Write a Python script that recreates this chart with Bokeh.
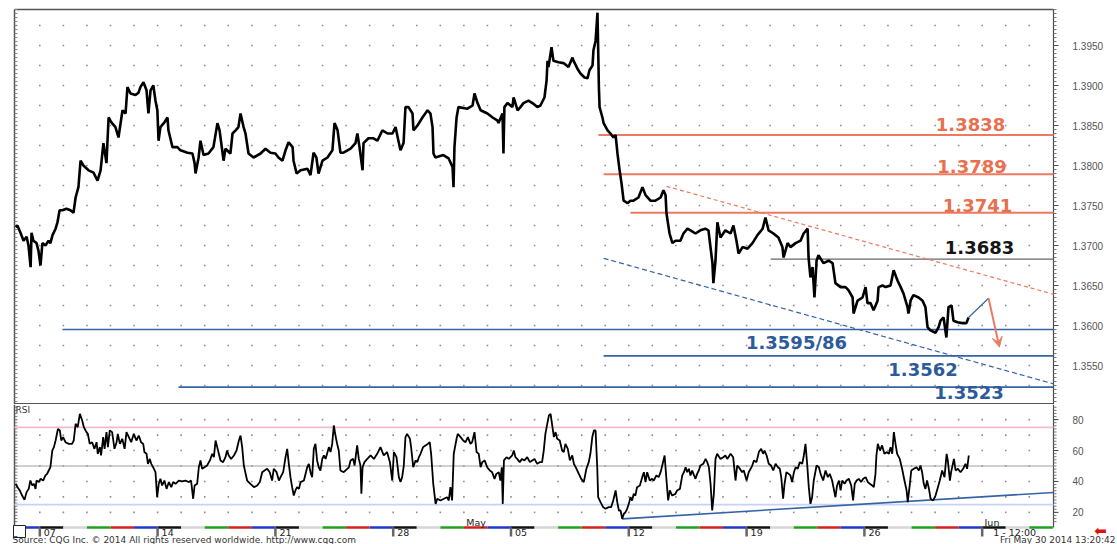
import numpy as np
from bokeh.plotting import figure
from bokeh.layouts import column
from bokeh.models import Arrow, VeeHead
from bokeh.core.properties import value
from bokeh.embed import file_html
from bokeh.resources import INLINE

# ---------------- data (time = trading days since the Apr 07 session open) ----------------
eurusd_close = [
    (-1.03, 1.3723), (-0.95, 1.3725), (-0.82, 1.3716), (-0.69, 1.3706), (-0.56, 1.3711), (-0.48, 1.3700),
    (-0.39, 1.3673), (-0.35, 1.3716), (-0.27, 1.3706), (-0.14, 1.3703), (-0.06, 1.3694), (0.03, 1.3675),
    (0.11, 1.3703), (0.24, 1.3700), (0.37, 1.3706), (0.45, 1.3703), (0.54, 1.3713), (0.67, 1.3721),
    (0.75, 1.3729), (0.84, 1.3744), (0.96, 1.3744), (1.13, 1.3746), (1.30, 1.3744), (1.43, 1.3741),
    (1.52, 1.3760), (1.64, 1.3773), (1.73, 1.3806), (1.85, 1.3800), (2.07, 1.3794), (2.28, 1.3791),
    (2.45, 1.3781), (2.58, 1.3794), (2.70, 1.3828), (2.83, 1.3803), (2.92, 1.3860), (3.04, 1.3854),
    (3.21, 1.3848), (3.34, 1.3835), (3.51, 1.3869), (3.64, 1.3865), (3.72, 1.3898), (3.85, 1.3890),
    (4.06, 1.3888), (4.19, 1.3891), (4.27, 1.3898), (4.40, 1.3904), (4.53, 1.3894), (4.61, 1.3865),
    (4.70, 1.3894), (4.82, 1.3900), (4.91, 1.3881), (4.99, 1.3869), (5.04, 1.3831), (5.12, 1.3848),
    (5.29, 1.3854), (5.42, 1.3860), (5.46, 1.3844), (5.63, 1.3823), (5.84, 1.3823), (5.97, 1.3819),
    (6.27, 1.3816), (6.48, 1.3815), (6.57, 1.3803), (6.61, 1.3790), (6.74, 1.3810), (6.82, 1.3831),
    (6.95, 1.3813), (7.16, 1.3815), (7.37, 1.3823), (7.54, 1.3853), (7.63, 1.3844), (7.76, 1.3815),
    (7.80, 1.3806), (7.88, 1.3821), (8.09, 1.3815), (8.18, 1.3840), (8.31, 1.3844), (8.43, 1.3848),
    (8.52, 1.3865), (8.65, 1.3848), (8.73, 1.3840), (8.86, 1.3815), (9.07, 1.3810), (9.37, 1.3815),
    (9.58, 1.3821), (9.79, 1.3816), (10.00, 1.3815), (10.13, 1.3810), (10.30, 1.3806), (10.43, 1.3819),
    (10.56, 1.3829), (10.73, 1.3823), (10.77, 1.3806), (10.90, 1.3790), (11.07, 1.3794), (11.36, 1.3796),
    (11.49, 1.3788), (11.62, 1.3816), (11.74, 1.3810), (11.83, 1.3790), (12.00, 1.3806), (12.21, 1.3810),
    (12.42, 1.3819), (12.51, 1.3853), (12.64, 1.3844), (12.76, 1.3816), (12.89, 1.3816), (13.19, 1.3821),
    (13.40, 1.3828), (13.48, 1.3840), (13.57, 1.3823), (13.70, 1.3794), (13.74, 1.3828), (13.95, 1.3834),
    (14.16, 1.3834), (14.33, 1.3831), (14.54, 1.3844), (14.76, 1.3840), (14.97, 1.3840), (15.10, 1.3848),
    (15.22, 1.3831), (15.31, 1.3819), (15.44, 1.3828), (15.52, 1.3873), (15.65, 1.3873), (15.82, 1.3865),
    (15.86, 1.3844), (16.03, 1.3850), (16.24, 1.3860), (16.46, 1.3869), (16.58, 1.3865), (16.67, 1.3848),
    (16.71, 1.3815), (16.79, 1.3810), (17.13, 1.3813), (17.35, 1.3809), (17.52, 1.3798), (17.56, 1.3773),
    (17.60, 1.3823), (17.69, 1.3860), (17.77, 1.3873), (18.15, 1.3871), (18.37, 1.3875), (18.45, 1.3890),
    (18.58, 1.3878), (18.71, 1.3869), (19.00, 1.3865), (19.22, 1.3860), (19.43, 1.3856), (19.47, 1.3853),
    (19.64, 1.3865), (19.68, 1.3815), (19.72, 1.3873), (19.85, 1.3878), (20.06, 1.3873), (20.11, 1.3885),
    (20.28, 1.3869), (20.40, 1.3873), (20.53, 1.3878), (20.74, 1.3881), (20.91, 1.3878), (21.12, 1.3873),
    (21.25, 1.3875), (21.42, 1.3885), (21.51, 1.3906), (21.55, 1.3931), (21.59, 1.3923), (21.72, 1.3948),
    (21.80, 1.3931), (22.02, 1.3929), (22.23, 1.3928), (22.44, 1.3923), (22.61, 1.3935), (22.65, 1.3931),
    (22.82, 1.3921), (22.95, 1.3915), (23.12, 1.3910), (23.25, 1.3909), (23.33, 1.3919), (23.46, 1.3925),
    (23.50, 1.3944), (23.59, 1.3956), (23.63, 1.3973), (23.67, 1.3991), (23.71, 1.3931), (23.73, 1.3898),
    (23.76, 1.3873), (23.88, 1.3860), (23.93, 1.3853), (24.10, 1.3844), (24.22, 1.3840), (24.35, 1.3835),
    (24.44, 1.3838), (24.52, 1.3815), (24.61, 1.3794), (24.69, 1.3778), (24.78, 1.3756), (24.95, 1.3753),
    (25.07, 1.3756), (25.20, 1.3756), (25.41, 1.3760), (25.58, 1.3773), (25.71, 1.3763), (25.92, 1.3756),
    (26.13, 1.3756), (26.35, 1.3760), (26.47, 1.3769), (26.56, 1.3763), (26.60, 1.3740), (26.73, 1.3715),
    (26.85, 1.3703), (26.98, 1.3706), (27.19, 1.3706), (27.32, 1.3715), (27.49, 1.3721), (27.62, 1.3719),
    (27.83, 1.3715), (28.04, 1.3719), (28.25, 1.3721), (28.38, 1.3719), (28.55, 1.3678), (28.59, 1.3653),
    (28.68, 1.3681), (28.76, 1.3729), (28.89, 1.3710), (29.10, 1.3719), (29.32, 1.3715), (29.44, 1.3725),
    (29.57, 1.3706), (29.66, 1.3690), (29.83, 1.3698), (30.04, 1.3696), (30.25, 1.3703), (30.46, 1.3713),
    (30.68, 1.3721), (30.80, 1.3735), (30.93, 1.3719), (31.14, 1.3715), (31.35, 1.3710), (31.52, 1.3698),
    (31.57, 1.3685), (31.74, 1.3703), (31.86, 1.3698), (32.08, 1.3703), (32.29, 1.3706), (32.42, 1.3715),
    (32.59, 1.3721), (32.63, 1.3685), (32.71, 1.3660), (32.80, 1.3673), (32.88, 1.3635), (32.97, 1.3681),
    (33.05, 1.3688), (33.26, 1.3678), (33.48, 1.3681), (33.65, 1.3678), (33.77, 1.3653), (33.99, 1.3648),
    (34.20, 1.3648), (34.33, 1.3644), (34.50, 1.3635), (34.54, 1.3615), (34.71, 1.3631), (34.92, 1.3635),
    (35.05, 1.3648), (35.13, 1.3628), (35.26, 1.3628), (35.39, 1.3619), (35.56, 1.3631), (35.60, 1.3648),
    (35.77, 1.3650), (35.90, 1.3648), (36.11, 1.3650), (36.24, 1.3669), (36.41, 1.3656), (36.54, 1.3648),
    (36.66, 1.3640), (36.83, 1.3623), (36.87, 1.3615), (36.96, 1.3631), (37.08, 1.3638), (37.30, 1.3635),
    (37.47, 1.3631), (37.59, 1.3623), (37.68, 1.3598), (37.80, 1.3594), (38.02, 1.3591), (38.15, 1.3598),
    (38.23, 1.3606), (38.36, 1.3610), (38.48, 1.3585), (38.57, 1.3623), (38.70, 1.3625), (38.78, 1.3606),
    (38.95, 1.3604), (39.16, 1.3603), (39.33, 1.3603), (39.42, 1.3610),
]

rsi_14 = [
    (-1.03, 38.5), (-0.93, 35.9), (-0.85, 34.2), (-0.75, 30.9), (-0.65, 28.1), (-0.56, 33.1), (-0.47, 35.2),
    (-0.40, 40.6), (-0.32, 37.4), (-0.25, 38.5), (-0.18, 35.2), (-0.14, 40.6), (-0.04, 39.6), (0.03, 41.7),
    (0.14, 40.6), (0.24, 43.9), (0.31, 44.9), (0.38, 47.1), (0.45, 49.2), (0.53, 60.0), (0.60, 62.2),
    (0.67, 66.5), (0.77, 74.0), (0.85, 73.0), (0.91, 66.5), (0.99, 68.7), (1.09, 65.4), (1.23, 64.3),
    (1.37, 64.3), (1.44, 66.5), (1.52, 77.3), (1.61, 75.1), (1.70, 83.7), (1.80, 79.4), (1.87, 75.1),
    (1.98, 71.9), (2.04, 70.8), (2.12, 64.3), (2.22, 65.4), (2.32, 61.1), (2.41, 65.4), (2.46, 57.9),
    (2.55, 62.2), (2.60, 56.8), (2.69, 68.7), (2.75, 61.1), (2.83, 71.9), (2.89, 62.2), (2.97, 73.0),
    (3.07, 71.9), (3.17, 61.1), (3.26, 65.4), (3.31, 70.8), (3.40, 64.3), (3.50, 67.6), (3.60, 61.1),
    (3.68, 71.9), (3.78, 68.7), (3.88, 65.4), (3.99, 70.8), (4.10, 66.5), (4.20, 69.7), (4.30, 65.4),
    (4.39, 64.3), (4.44, 59.0), (4.53, 57.9), (4.59, 51.4), (4.67, 54.6), (4.73, 51.4), (4.81, 49.2),
    (4.91, 46.0), (4.98, 29.8), (5.05, 38.5), (5.12, 41.7), (5.19, 37.4), (5.29, 40.6), (5.38, 35.2),
    (5.48, 39.6), (5.58, 36.3), (5.66, 39.6), (5.76, 38.5), (5.90, 40.6), (6.04, 40.0), (6.18, 40.6),
    (6.33, 39.6), (6.42, 40.6), (6.51, 28.8), (6.57, 37.4), (6.68, 38.5), (6.75, 49.2), (6.82, 53.6),
    (6.89, 48.2), (6.99, 49.2), (7.10, 50.3), (7.22, 53.6), (7.32, 57.9), (7.39, 55.7), (7.46, 66.5),
    (7.53, 62.2), (7.60, 57.9), (7.67, 53.6), (7.78, 52.5), (7.88, 55.7), (7.95, 60.0), (8.02, 56.8),
    (8.12, 54.6), (8.24, 56.8), (8.35, 60.0), (8.45, 66.5), (8.52, 69.7), (8.59, 62.2), (8.66, 50.3),
    (8.80, 40.6), (8.94, 38.5), (9.09, 36.3), (9.23, 37.4), (9.34, 39.6), (9.44, 46.0), (9.54, 47.1),
    (9.65, 48.2), (9.76, 46.0), (9.86, 40.6), (9.93, 48.2), (10.05, 46.0), (10.15, 40.6), (10.22, 42.8),
    (10.33, 46.0), (10.43, 55.7), (10.50, 61.1), (10.57, 51.4), (10.64, 42.8), (10.71, 36.3), (10.78, 30.9),
    (10.85, 34.2), (10.92, 36.3), (11.00, 35.2), (11.07, 39.6), (11.21, 40.6), (11.35, 49.2), (11.42, 51.4),
    (11.49, 46.0), (11.56, 42.8), (11.63, 61.1), (11.70, 64.3), (11.77, 53.6), (11.84, 49.2), (11.91, 47.1),
    (11.99, 54.6), (12.06, 56.8), (12.13, 54.6), (12.27, 62.2), (12.34, 59.0), (12.41, 64.3), (12.48, 76.2),
    (12.55, 69.7), (12.62, 64.3), (12.69, 60.0), (12.76, 47.1), (12.90, 46.0), (13.05, 48.2), (13.12, 49.2),
    (13.19, 53.6), (13.30, 54.6), (13.36, 50.3), (13.47, 63.3), (13.54, 54.6), (13.61, 50.3), (13.65, 32.0),
    (13.70, 49.2), (13.78, 52.5), (13.90, 54.6), (14.04, 56.8), (14.18, 54.6), (14.32, 57.9), (14.46, 62.2),
    (14.60, 56.8), (14.74, 59.0), (14.86, 52.5), (14.96, 40.6), (15.03, 59.0), (15.14, 55.7), (15.24, 42.8),
    (15.31, 39.6), (15.38, 42.8), (15.45, 50.3), (15.52, 68.7), (15.59, 70.8), (15.71, 67.6), (15.76, 62.2),
    (15.85, 49.2), (15.95, 53.6), (16.02, 52.5), (16.09, 55.7), (16.16, 57.9), (16.27, 62.2), (16.37, 63.3),
    (16.47, 64.3), (16.55, 65.4), (16.61, 57.9), (16.70, 38.5), (16.80, 25.5), (16.87, 28.8), (17.01, 27.7),
    (17.15, 28.8), (17.29, 29.8), (17.36, 27.7), (17.43, 36.3), (17.50, 27.7), (17.57, 57.9), (17.69, 67.6),
    (17.74, 70.8), (17.86, 68.7), (17.97, 66.5), (18.07, 65.4), (18.17, 68.7), (18.28, 64.3), (18.35, 65.4),
    (18.45, 71.9), (18.54, 59.0), (18.63, 57.9), (18.71, 49.2), (18.78, 52.5), (18.88, 53.6), (18.99, 49.2),
    (19.10, 47.1), (19.20, 46.0), (19.30, 41.7), (19.38, 44.9), (19.48, 46.0), (19.55, 40.6), (19.61, 49.2),
    (19.65, 25.5), (19.70, 53.6), (19.81, 55.7), (19.91, 54.6), (20.05, 56.8), (20.12, 60.0), (20.19, 55.7),
    (20.26, 54.6), (20.37, 52.5), (20.47, 54.6), (20.57, 53.6), (20.69, 55.7), (20.80, 52.5), (20.90, 53.6),
    (21.00, 54.6), (21.11, 51.4), (21.22, 52.5), (21.32, 52.5), (21.39, 60.0), (21.46, 70.8), (21.54, 77.3),
    (21.61, 82.7), (21.68, 83.7), (21.75, 76.2), (21.82, 68.7), (21.89, 71.9), (21.96, 67.6), (22.07, 66.5),
    (22.17, 60.0), (22.24, 59.0), (22.31, 64.3), (22.41, 61.1), (22.50, 53.6), (22.60, 56.8), (22.67, 51.4),
    (22.78, 48.2), (22.88, 44.9), (22.98, 41.7), (23.09, 39.6), (23.20, 48.2), (23.30, 52.5), (23.37, 57.9),
    (23.45, 68.7), (23.52, 73.0), (23.59, 73.0), (23.66, 49.2), (23.70, 29.8), (23.80, 26.6), (23.91, 23.4),
    (24.01, 22.3), (24.15, 23.4), (24.25, 23.4), (24.34, 27.7), (24.44, 34.2), (24.51, 26.6), (24.58, 21.2),
    (24.65, 21.2), (24.72, 15.8), (24.79, 19.1), (24.86, 20.1), (24.93, 22.3), (25.00, 25.5), (25.07, 29.8),
    (25.14, 27.7), (25.21, 32.0), (25.28, 30.9), (25.35, 36.3), (25.47, 37.4), (25.57, 42.8), (25.64, 46.0),
    (25.71, 39.6), (25.78, 46.0), (25.89, 40.6), (25.99, 41.7), (26.06, 40.6), (26.17, 43.9), (26.27, 42.8),
    (26.35, 46.0), (26.42, 50.3), (26.52, 56.8), (26.59, 42.8), (26.67, 27.7), (26.74, 34.2), (26.84, 30.9),
    (26.98, 32.0), (27.05, 34.2), (27.17, 35.2), (27.27, 43.9), (27.34, 46.0), (27.41, 49.2), (27.48, 46.0),
    (27.55, 48.2), (27.62, 43.9), (27.69, 47.1), (27.83, 41.7), (27.90, 44.9), (27.97, 47.1), (28.04, 50.3),
    (28.16, 51.4), (28.26, 54.6), (28.33, 52.5), (28.40, 49.2), (28.47, 38.5), (28.54, 21.2), (28.61, 32.0),
    (28.68, 54.6), (28.75, 57.9), (28.89, 54.6), (29.01, 55.7), (29.10, 56.8), (29.18, 54.6), (29.32, 57.9),
    (29.43, 55.7), (29.53, 40.6), (29.60, 50.3), (29.67, 49.2), (29.81, 46.0), (29.88, 47.1), (30.00, 40.6),
    (30.09, 46.0), (30.17, 48.2), (30.24, 50.3), (30.31, 53.6), (30.42, 52.5), (30.52, 59.0), (30.62, 61.1),
    (30.70, 57.9), (30.76, 60.0), (30.85, 56.8), (30.94, 51.4), (31.04, 50.3), (31.13, 47.1), (31.23, 51.4),
    (31.33, 49.2), (31.41, 48.2), (31.47, 42.8), (31.55, 28.8), (31.61, 38.5), (31.69, 46.0), (31.79, 44.9),
    (31.86, 43.9), (31.93, 39.6), (32.01, 46.0), (32.08, 49.2), (32.17, 48.2), (32.26, 52.5), (32.36, 51.4),
    (32.43, 56.8), (32.50, 64.3), (32.57, 51.4), (32.64, 36.3), (32.71, 25.5), (32.78, 29.8), (32.85, 40.6),
    (32.97, 50.3), (33.07, 49.2), (33.14, 44.9), (33.25, 40.6), (33.35, 47.1), (33.45, 42.8), (33.53, 44.9),
    (33.63, 40.6), (33.70, 35.2), (33.77, 29.8), (33.84, 37.4), (33.92, 40.6), (33.99, 34.2), (34.06, 40.6),
    (34.16, 38.5), (34.24, 40.6), (34.34, 41.7), (34.44, 37.4), (34.52, 27.7), (34.59, 38.5), (34.67, 40.6),
    (34.76, 41.7), (34.86, 39.6), (34.95, 41.7), (35.05, 42.8), (35.15, 39.6), (35.23, 38.5), (35.33, 37.4),
    (35.40, 36.3), (35.47, 44.9), (35.51, 56.8), (35.57, 64.3), (35.66, 60.0), (35.75, 63.3), (35.85, 57.9),
    (35.94, 59.0), (36.04, 57.9), (36.11, 62.2), (36.18, 57.9), (36.25, 71.9), (36.32, 64.3), (36.39, 57.9),
    (36.50, 54.6), (36.60, 48.2), (36.70, 40.6), (36.79, 34.2), (36.84, 26.6), (36.93, 38.5), (36.99, 47.1),
    (37.10, 48.2), (37.21, 49.2), (37.31, 47.1), (37.38, 50.3), (37.45, 46.0), (37.52, 38.5), (37.59, 35.2),
    (37.66, 40.6), (37.74, 35.2), (37.81, 28.8), (37.92, 27.7), (38.02, 30.9), (38.12, 36.3), (38.20, 40.6),
    (38.30, 47.1), (38.40, 42.8), (38.49, 57.9), (38.54, 53.6), (38.63, 40.6), (38.68, 46.0), (38.80, 54.6),
    (38.87, 47.1), (38.97, 48.2), (39.08, 46.0), (39.19, 48.2), (39.29, 51.4), (39.36, 48.2), (39.43, 56.8),
]

resistance_levels = [1.3838, 1.3789, 1.3741]
resistance_from_t = [23.71, 23.93, 25.07]
pivot_level = 1.3683
pivot_from_t = 31.02
support_levels = [1.3595, 1.3562, 1.3523]
support_from_t = [0.96, 23.93, 5.89]
level_labels = ["1.3838", "1.3789", "1.3741", "1.3683", "1.3595/86", "1.3562", "1.3523"]

upper_trend_t = [26.60, 43.03]
upper_trend_price = [1.3774, 1.3639]
lower_channel_t = [23.93, 43.03]
lower_channel_price = [1.3684, 1.3527]
forecast_t = [39.42, 40.27, 40.73]
forecast_price = [1.3610, 1.3634, 1.3573]

rsi_trend_t = [24.72, 43.03]
rsi_trend_value = [15.8, 32.9]
rsi_bands = [75, 50, 25]

price_ticks = [1.3550, 1.3600, 1.3650, 1.3700, 1.3750, 1.3800, 1.3850, 1.3900, 1.3950]
price_tick_labels = ["1.3550", "1.3600", "1.3650", "1.3700", "1.3750", "1.3800", "1.3850", "1.3900", "1.3950"]
rsi_ticks = [20, 40, 60, 80]
rsi_tick_labels = ["20", "40", "60", "80"]
week_labels = ["07", "14", "21", "28", "05", "12", "19", "26"]
week_start_t = [0, 5, 10, 15, 20, 25, 30, 35]
month_labels = ["May", "Jun"]
month_start_t = [18.1, 40.1]
last_session_label = "1 - 12:00"
last_session_t = 40
source_note = "Source: CQG Inc. \u00a9 2014 All rights reserved worldwide. http://www.cqg.com"
stamp_note = "Fri May 30 2014 13:20:42"

# ---------------- layout helpers (page pixels -> data) ----------------
DAY_PX, T0_PX = 23.56, 39.3
W = 1117
FRAME_L, FRAME_R, MAIN_TOP, SPLIT = 14, 1053, 9, 404


def t_at(px):
    return (px - T0_PX) / DAY_PX


def price_at(py):
    return 1.3950 - (py - 45) / 8000.0


def rsi_at(py):
    return 50 - (py - 465.5) / 1.546


AX_COL = "#4a4a4a"
SALMON = "#ec7a60"
SALMON_TXT = "#e8704f"
BLUE = "#3563a6"
BLUE_TXT = "#2c5a9a"
SMALL_FONT = value("DejaVu Sans")
AXIS_FONT = value("Liberation Sans")

pt = [a for a, _ in eurusd_close]
pp = [b for _, b in eurusd_close]
rt = [a for a, _ in rsi_14]
rv = [b for _, b in rsi_14]


def bare_figure(height, y_range):
    f = figure(width=W, height=height, output_backend="svg", toolbar_location=None,
               x_range=(t_at(0), t_at(W)), y_range=y_range,
               x_axis_location=None, y_axis_location=None,
               min_border_left=0, min_border_right=0, min_border_top=0, min_border_bottom=0)
    f.grid.visible = False
    f.outline_line_color = None
    return f


def hand_axis(f, ticks, labels, minor, lo, hi):
    xa = t_at(FRAME_R)
    f.segment(x0=[xa], y0=[lo], x1=[xa], y1=[hi], line_color=AX_COL, line_width=1.2)
    f.segment(x0=[xa] * len(minor), y0=minor, x1=[t_at(FRAME_R + 3)] * len(minor), y1=minor,
              line_color="#777777", line_width=1)
    f.segment(x0=[xa] * len(ticks), y0=ticks, x1=[t_at(FRAME_R + 5)] * len(ticks), y1=ticks,
              line_color=AX_COL, line_width=1)
    f.text(x=[t_at(1072)] * len(ticks), y=ticks, text=labels, text_font=AXIS_FONT,
           text_font_size="10px", text_color="#555555", text_align="left", text_baseline="middle")
    # inner ticks on the left frame edge
    f.segment(x0=[t_at(FRAME_L)] * len(minor), y0=minor, x1=[t_at(FRAME_L + 3)] * len(minor), y1=minor,
              line_color="#888888", line_width=1)


# ---------------- main price panel ----------------
p = bare_figure(SPLIT, (price_at(SPLIT), price_at(0)))
minor_price = list(np.round(np.arange(1.3505, 1.39951, 0.0005), 4))

# frame: top, left, bottom
p.segment(x0=[t_at(FRAME_L), t_at(FRAME_L), t_at(FRAME_L)],
          y0=[price_at(MAIN_TOP), price_at(MAIN_TOP), price_at(SPLIT - 0.75)],
          x1=[t_at(FRAME_R), t_at(FRAME_L), t_at(FRAME_R)],
          y1=[price_at(MAIN_TOP), price_at(SPLIT), price_at(SPLIT - 0.75)],
          line_color="#555555", line_width=1.5)
hand_axis(p, price_ticks, price_tick_labels, minor_price, price_at(SPLIT), price_at(MAIN_TOP))

# dotted lattice grid
gx, gy = np.meshgrid(np.arange(-1, 43), np.round(np.arange(1.3525, 1.39751, 0.0025), 4))
p.scatter(gx.ravel(), gy.ravel(), marker="square", size=1.6, color="#8c8c8c", line_color=None)

# horizontal levels
p.segment(x0=resistance_from_t, y0=resistance_levels, x1=[t_at(FRAME_R)] * 3, y1=resistance_levels,
          line_color=SALMON, line_width=2)
p.segment(x0=[pivot_from_t], y0=[pivot_level], x1=[t_at(FRAME_R)], y1=[pivot_level],
          line_color="#666666", line_width=1.2)
p.segment(x0=support_from_t, y0=support_levels, x1=[t_at(FRAME_R)] * 3, y1=support_levels,
          line_color=BLUE, line_width=1.6)

# trend lines
p.line(upper_trend_t, upper_trend_price, line_color=SALMON, line_width=1.2, line_dash="4 3")
p.line(lower_channel_t, lower_channel_price, line_color=BLUE, line_width=1.2, line_dash="5 3")

# price
p.line(pt, pp, line_color="black", line_width=2.6)

# forecast path
p.line(forecast_t[:2], forecast_price[:2], line_color=BLUE, line_width=1.2)
p.add_layout(Arrow(end=VeeHead(size=10, fill_color=SALMON, line_color=SALMON),
                   x_start=forecast_t[1], y_start=forecast_price[1],
                   x_end=forecast_t[2], y_end=forecast_price[2],
                   line_color=SALMON, line_width=2))

# level labels (centre positions in page px)
lab_px = [970, 971.5, 977, 979, 796, 922.5, 968.5]
lab_py = [124, 166, 205, 247, 342, 369, 392]
lab_col = [SALMON_TXT, SALMON_TXT, SALMON_TXT, "#151515", BLUE_TXT, BLUE_TXT, BLUE_TXT]
p.text(x=[t_at(v) for v in lab_px], y=[price_at(v) for v in lab_py], text=level_labels,
       text_color=lab_col, text_font=value("DejaVu Sans"), text_font_style="bold",
       text_font_size="18px", text_align="center", text_baseline="middle")

# ---------------- RSI panel ----------------
r = bare_figure(544 - SPLIT, (rsi_at(544), rsi_at(SPLIT)))
STRIP_Y = 527
minor_rsi = list(range(14, 90, 2))
hand_axis(r, rsi_ticks, rsi_tick_labels, minor_rsi, rsi_at(STRIP_Y), rsi_at(SPLIT))

# left border of RSI panel
r.segment(x0=[t_at(FRAME_L)], y0=[rsi_at(537)], x1=[t_at(FRAME_L)], y1=[rsi_at(SPLIT)],
          line_color="#555555", line_width=1.5)

rx, ry = np.meshgrid(np.arange(-1, 43), np.arange(20, 81, 10))
r.scatter(rx.ravel(), ry.ravel(), marker="square", size=1.6, color="#8c8c8c", line_color=None)

band_cols = ["#f4bcc2", "#a0a0a0", "#c8d2f2"]
band_w = [1.6, 1.0, 1.6]
for lvl, c, w in zip(rsi_bands, band_cols, band_w):
    r.segment(x0=[t_at(FRAME_L)], y0=[lvl], x1=[t_at(FRAME_R)], y1=[lvl], line_color=c, line_width=w)

r.line(rsi_trend_t, rsi_trend_value, line_color=BLUE, line_width=1.6)
r.line(rt, rv, line_color="black", line_width=1.8)

r.text(x=[t_at(15)], y=[rsi_at(409)], text=["RSI"], text_font=SMALL_FONT, text_font_size="9px",
       text_color="#333333", text_align="left", text_baseline="middle")

# day-of-week colour strip
day_cols = ["#111111", "#d6d6d6", "#1fa31f", "#d42020", "#1f38cc"]
d0 = np.arange(-1, 43)
r.segment(x0=np.maximum(d0, t_at(FRAME_L)), y0=[rsi_at(STRIP_Y)] * len(d0),
          x1=np.minimum(d0 + 1, t_at(FRAME_R)), y1=[rsi_at(STRIP_Y)] * len(d0),
          line_color=[day_cols[d % 5] for d in d0], line_width=2.5, line_cap="butt")

bars_t = week_start_t + [last_session_t]
r.segment(x0=bars_t, y0=[rsi_at(527)] * len(bars_t), x1=bars_t, y1=[rsi_at(536)] * len(bars_t),
          line_color="#666666", line_width=2.5)
r.text(x=week_start_t, y=[rsi_at(531.5)] * len(week_start_t), text=week_labels, x_offset=4,
       text_font=SMALL_FONT, text_font_size="9.5px", text_color="#222222",
       text_align="left", text_baseline="middle")
r.text(x=[last_session_t], y=[rsi_at(531.5)], text=[last_session_label], x_offset=11,
       text_font=SMALL_FONT, text_font_size="9.5px", text_color="#222222",
       text_align="left", text_baseline="middle")
r.text(x=month_start_t, y=[rsi_at(521.5)] * 2, text=month_labels,
       text_font=SMALL_FONT, text_font_size="9.5px", text_color="#222222",
       text_align="left", text_baseline="middle")

r.quad(left=[t_at(13)], right=[t_at(25)], bottom=[rsi_at(537)], top=[rsi_at(525)],
       fill_color="white", line_color="#222222", line_width=1)

r.text(x=[t_at(12)], y=[rsi_at(539.5)], text=[source_note],
       text_font=SMALL_FONT, text_font_size="9px", text_color="#333333",
       text_align="left", text_baseline="middle")
r.text(x=[t_at(1115)], y=[rsi_at(539.5)], text=[stamp_note],
       text_font=SMALL_FONT, text_font_size="9px", text_color="#333333",
       text_align="right", text_baseline="middle")
r.text(x=[t_at(1100)], y=[rsi_at(530)], text=["\u2b05"],
       text_font=SMALL_FONT, text_font_size="15px", text_color="#e01010",
       text_align="center", text_baseline="middle")

layout = column(p, r, spacing=0)
open("out.html", "w").write(file_html(layout, INLINE))
